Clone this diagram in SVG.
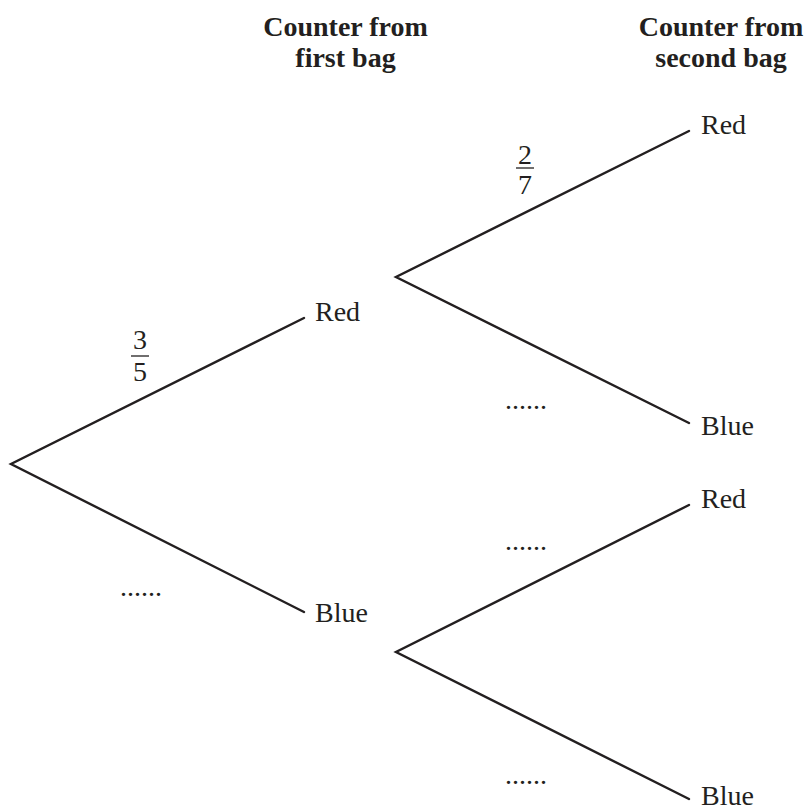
<svg xmlns="http://www.w3.org/2000/svg" width="807" height="811" viewBox="0 0 807 811">
<style>
text{font-family:"Liberation Serif","Times New Roman",serif;font-size:28px;fill:#231f20}
.h{font-weight:bold;text-anchor:middle}
.c{text-anchor:middle}
.br{stroke:#231f20;stroke-width:2.4;fill:none;stroke-linecap:round;stroke-linejoin:miter}
.bar{stroke:#231f20;stroke-width:1.3}
</style>
<rect width="807" height="811" fill="#fff"/>
<g id="header1"><text class="h" x="345.5" y="36">Counter from</text><text class="h" x="345.5" y="67">first bag</text></g>
<g id="header2"><text class="h" x="721" y="36">Counter from</text><text class="h" x="721" y="67">second bag</text></g>
<g id="connectors">
<polyline class="br" points="304,318 11,464 304,612"/>
<polyline class="br" points="689,131 396,277 689,423"/>
<polyline class="br" points="689,505 396,652 689,799"/>
</g>
<g id="node-red1"><text x="315" y="321">Red</text></g>
<g id="node-blue1"><text x="315" y="622">Blue</text></g>
<g id="node-red-red"><text x="701" y="134">Red</text></g>
<g id="node-red-blue"><text x="701" y="435">Blue</text></g>
<g id="node-blue-red"><text x="701" y="508">Red</text></g>
<g id="node-blue-blue"><text x="701" y="805">Blue</text></g>
<g id="labels">
<text class="c" x="140" y="349">3</text>
<line class="bar" x1="131" y1="356" x2="149" y2="356"/>
<text class="c" x="140" y="381">5</text>
<text class="c" x="525" y="164">2</text>
<line class="bar" x1="516" y1="168" x2="534" y2="168"/>
<text class="c" x="525" y="194">7</text>
<text x="120" y="596">......</text>
<text x="505" y="409">......</text>
<text x="505" y="550">......</text>
<text x="505" y="784">......</text>
</g>
</svg>
